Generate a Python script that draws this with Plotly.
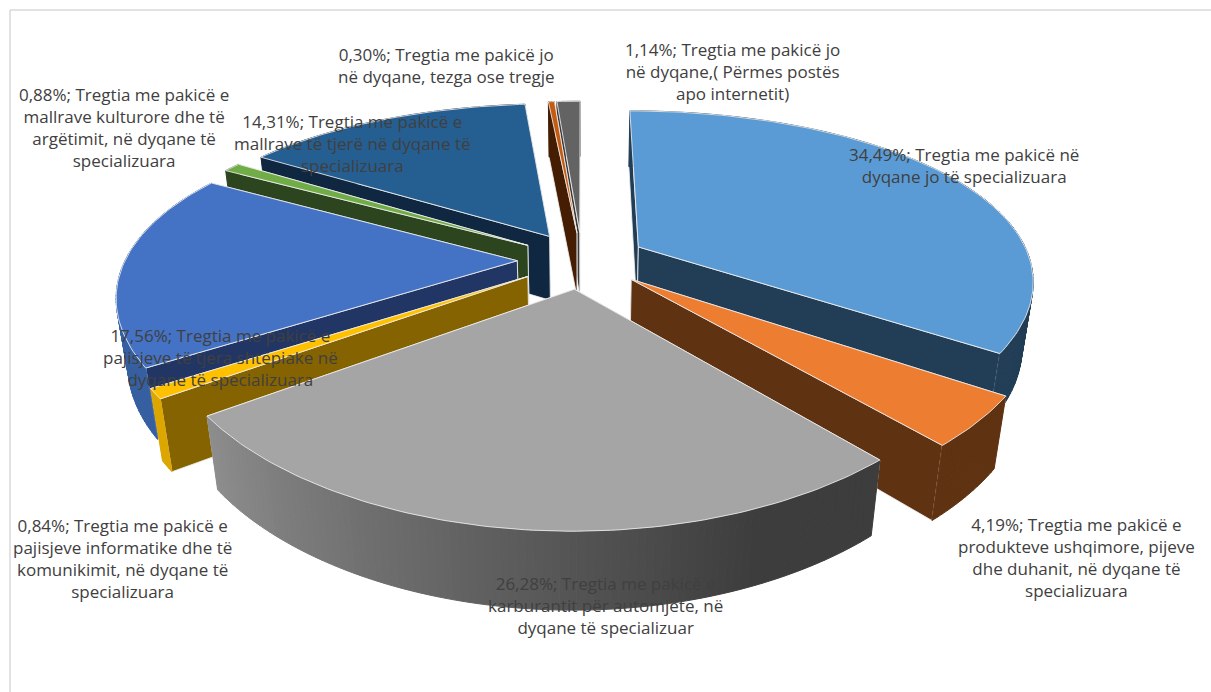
import math
import plotly.graph_objects as go

# ---- data ----
shares = [34.49, 4.19, 26.28, 0.84, 17.56, 0.88, 14.31, 0.30, 1.14]
names = [
    "Tregtia me pakicë në<br>dyqane jo të specializuara",
    "Tregtia me pakicë e<br>produkteve ushqimore, pijeve<br>dhe duhanit, në dyqane të<br>specializuara",
    "Tregtia me pakicë e<br>karburantit për automjete, në<br>dyqane të specializuar",
    "Tregtia me pakicë e<br>pajisjeve informatike dhe të<br>komunikimit, në dyqane të<br>specializuara",
    "Tregtia me pakicë e<br>pajisjeve të tjera shtëpiake në<br>dyqane të specializuara",
    "Tregtia me pakicë e<br>mallrave kulturore dhe të<br>argëtimit, në dyqane të<br>specializuara",
    "Tregtia me pakicë e<br>mallrave të tjerë në dyqane të<br>specializuara",
    "Tregtia me pakicë jo<br>në dyqane, tezga ose tregje",
    "Tregtia me pakicë jo<br>në dyqane,( Përmes postës<br>apo internetit)",
]
top_colors = ["#5B9BD5", "#ED7D31", "#A5A5A5", "#FFC000", "#4472C4", "#70AD47", "#255E91", "#C55A11", "#636363"]
cut_colors = ["#223E56", "#5F3212", "#4A4A4A", "#856300", "#223665", "#2D451E", "#0F2740", "#451D02", "#3A3A3A"]
wall_start = ["#223E56", "#5F3212", "#3D3D3D", "#DDA700", "#355FA0", "#2D451E", "#0F2740", "#451D02", "#3A3A3A"]
wall_end = ["#223E56", "#5F3212", "#8E8E8E", "#DDA700", "#3A66AC", "#2D451E", "#0F2740", "#451D02", "#3A3A3A"]
draw_order = [8, 7, 6, 5, 0, 4, 3, 1, 2]
label_xy = [(964, 165), (1076, 557), (605, 605), (122, 558), (220, 357), (124, 127), (352, 143), (446, 65), (732, 71)]

# ---- projection settings ----
CX, CY = 582, 260
A, B, H = 172, 392, 67
KY, KX, M, EXPLODE = 0.225, 0.18, 0.025, 0.165


def project(u, v, z):
    wy = 1 + KY * v + M * z
    wx = 1 + KX * v + M * z
    return CX + B * u / wx, CY + (-A * v + H * z) / wy


def mix(c0, c1, t):
    a = [int(c0[i:i + 2], 16) for i in (1, 3, 5)]
    b = [int(c1[i:i + 2], 16) for i in (1, 3, 5)]
    return "#%02x%02x%02x" % tuple(round(p + (q - p) * t) for p, q in zip(a, b))


fig = go.Figure()
EDGE = "rgba(240,240,240,0.85)"


def poly(points, fill, line=None, width=1):
    xs = [p[0] for p in points] + [points[0][0]]
    ys = [p[1] for p in points] + [points[0][1]]
    fig.add_trace(go.Scatter(x=xs, y=ys, mode="lines", fill="toself", fillcolor=fill,
                             line=dict(color=line or fill, width=width),
                             hoverinfo="skip", showlegend=False))


spans = []
acc = 0.0
for s in shares:
    spans.append((acc / sum(shares) * 2 * math.pi, (acc + s) / sum(shares) * 2 * math.pi))
    acc += s

for i in draw_order:
    a0, a1 = spans[i]
    mid = (a0 + a1) / 2
    ou, ov = EXPLODE * math.sin(mid), EXPLODE * math.cos(mid)
    n = max(2, int((a1 - a0) / math.radians(1)))
    angs = [a0 + (a1 - a0) * j / n for j in range(n + 1)]
    rim = [(ou + math.sin(t), ov + math.cos(t)) for t in angs]
    # cut faces, far one first
    for edge_pt in sorted((rim[0], rim[-1]), key=lambda p: -p[1]):
        poly([project(ou, ov, 0), project(*edge_pt, 0), project(*edge_pt, 1), project(ou, ov, 1)],
             cut_colors[i], EDGE)
    # outer curved wall, shaded by angle
    for j in range(n):
        t = max(0.0, ((j + 0.5) / n - 0.2) / 0.8)
        c = mix(wall_start[i], wall_end[i], t)
        poly([project(*rim[j], 0), project(*rim[j + 1], 0), project(*rim[j + 1], 1), project(*rim[j], 1)], c)
    # top face
    poly([project(ou, ov, 0)] + [project(*p, 0) for p in rim], top_colors[i], EDGE)

for share, name, (lx, ly) in zip(shares, names, label_xy):
    text = f"{share:.2f}".replace(".", ",") + "%; " + name
    fig.add_annotation(x=lx, y=ly, text=text, showarrow=False, align="center",
                       xanchor="center", yanchor="middle",
                       font=dict(family="Open Sans", size=17, color="#404040"))

fig.update_layout(
    width=1211, height=692, margin=dict(l=0, r=0, t=0, b=0),
    paper_bgcolor="white", plot_bgcolor="white", showlegend=False,
    xaxis=dict(range=[0, 1211], visible=False, fixedrange=True),
    yaxis=dict(range=[692, 0], visible=False, fixedrange=True),
    shapes=[
        dict(type="line", xref="x", yref="y", x0=10, x1=1211, y0=10, y1=10, line=dict(color="#D9D9D9", width=1.5)),
        dict(type="line", xref="x", yref="y", x0=10, x1=10, y0=10, y1=692, line=dict(color="#D9D9D9", width=1.5)),
    ],
)
fig.write_html("out.html", config=dict(displayModeBar=False),
               post_script="document.body.style.margin='0';document.documentElement.style.overflow='hidden';")
